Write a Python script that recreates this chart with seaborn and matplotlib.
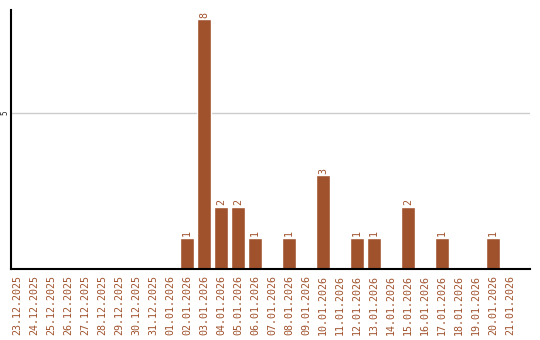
import matplotlib
matplotlib.use("Agg")
import matplotlib.pyplot as plt
import seaborn as sns
import pandas as pd

dates = ["23.12.2025", "24.12.2025", "25.12.2025", "26.12.2025", "27.12.2025",
         "28.12.2025", "29.12.2025", "30.12.2025", "31.12.2025", "01.01.2026",
         "02.01.2026", "03.01.2026", "04.01.2026", "05.01.2026", "06.01.2026",
         "07.01.2026", "08.01.2026", "09.01.2026", "10.01.2026", "11.01.2026",
         "12.01.2026", "13.01.2026", "14.01.2026", "15.01.2026", "16.01.2026",
         "17.01.2026", "18.01.2026", "19.01.2026", "20.01.2026", "21.01.2026"]
counts = [0, 0, 0, 0, 0, 0, 0, 0, 0, 0,
          1, 8, 2, 2, 1, 0, 1, 0, 3, 0,
          1, 1, 0, 2, 0, 1, 0, 0, 1, 0]

BROWN = "#a0522d"
sns.set_style("white")
plt.rcParams["font.family"] = ["DejaVu Sans Mono", "DejaVu Sans"]

df = pd.DataFrame({"date": dates, "count": counts})
fig = plt.figure(figsize=(5.4, 3.4), dpi=100)
ax = fig.add_axes([11/540, 71/340, 519/540, 259/340])
sns.barplot(data=df, x="date", y="count", color=BROWN, saturation=1, width=0.82, ax=ax)

ax.set_xlim(-0.35, 30.18)
ax.set_ylim(0, 8.3)
ax.set_yticks([5])
ax.set_yticklabels(["5"], rotation=90, fontsize=5.5, va="center")
ax.yaxis.grid(True, color="#cccccc", linewidth=1)
ax.set_axisbelow(True)
ax.tick_params(axis="y", length=0, pad=1)
ax.tick_params(axis="x", length=0, pad=4)
ax.set_xticks(range(len(dates)))
ax.set_xticklabels(dates, rotation=90, fontsize=7.2, color=BROWN)
ax.set_xlabel("")
ax.set_ylabel("")
for s in ["top", "right"]:
    ax.spines[s].set_visible(False)
for s in ["left", "bottom"]:
    ax.spines[s].set_color("black")
    ax.spines[s].set_linewidth(1.5)

for i, v in enumerate(counts):
    if v > 0:
        ax.text(i, v + 0.05, str(v), rotation=90, ha="center", va="bottom",
                fontsize=7.2, color=BROWN)

fig.savefig("out.png", dpi=100)
